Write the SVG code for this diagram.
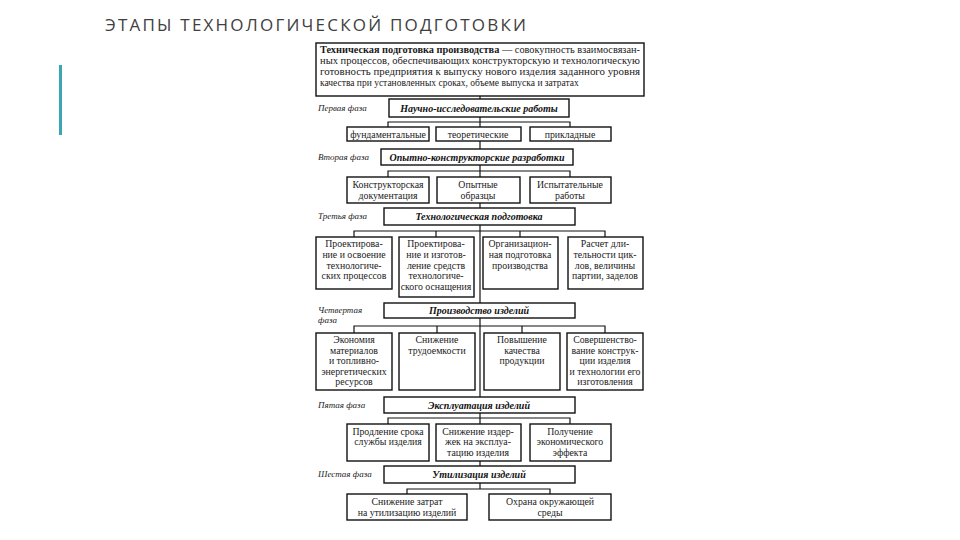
<svg xmlns="http://www.w3.org/2000/svg" width="960" height="540" viewBox="0 0 960 540">
<style>
.bg{fill:#ffffff}
.title{font-family:"Open Sans","DejaVu Sans",sans-serif;font-size:17px;fill:#404040;letter-spacing:1px}
.box{fill:#ffffff;stroke:#111;stroke-width:1.4}
.con{stroke:#111;stroke-width:1.2;fill:none}
.t{font-family:"Liberation Serif","Times New Roman",serif;font-size:9.8px;fill:#1a1a1a;text-anchor:middle}
.tl{font-family:"Liberation Serif","Times New Roman",serif;font-size:9.5px;fill:#1a1a1a}
.ph{font-family:"Liberation Serif","Times New Roman",serif;font-size:10px;font-weight:bold;font-style:italic;fill:#111;text-anchor:middle}
.lab{font-family:"Liberation Serif","Times New Roman",serif;font-size:9px;font-style:italic;fill:#222}
</style>
<rect class="bg" x="0" y="0" width="960" height="540"/>
<text class="title" x="105" y="31" textLength="422" lengthAdjust="spacing">ЭТАПЫ ТЕХНОЛОГИЧЕСКОЙ ПОДГОТОВКИ</text>
<rect x="59" y="65" width="3" height="70" fill="#3aa6b3"/>

<g id="connectors">
<line class="con" x1="480" y1="96" x2="480" y2="489"/>
<path class="con" d="M388 127V122H570V127"/>
<path class="con" d="M388 177V171H570V177"/>
<path class="con" d="M354 237V231H605V237M436 231V237M520 231V237"/>
<path class="con" d="M354 333V326H605V333M437 326V333M522 326V333"/>
<path class="con" d="M388 424V418H570V424"/>
<path class="con" d="M407 494V489H550V494"/>
</g>

<g id="top">
<rect class="box" x="316" y="43" width="328" height="53"/>
<text class="tl" x="320" y="53" textLength="320" lengthAdjust="spacingAndGlyphs"><tspan font-weight="bold">Техническая подготовка производства</tspan> — совокупность взаимосвязан-</text>
<text class="tl" x="320" y="64" textLength="320" lengthAdjust="spacingAndGlyphs">ных процессов, обеспечивающих конструкторскую и технологическую</text>
<text class="tl" x="320" y="75" textLength="320" lengthAdjust="spacingAndGlyphs">готовность предприятия к выпуску нового изделия заданного уровня</text>
<text class="tl" x="320" y="86">качества при установленных сроках, объеме выпуска и затратах</text>
</g>

<g id="phase1">
<text class="lab" x="318" y="111">Первая фаза</text>
<rect class="box" x="389" y="99" width="180" height="18"/>
<text class="ph" x="479" y="111.5">Научно-исследовательские работы</text>
</g>
<g id="p1c1"><rect class="box" x="347" y="127" width="82" height="14"/><text class="t" x="388" y="137.5">фундаментальные</text></g>
<g id="p1c2"><rect class="box" x="436" y="127" width="85" height="14"/><text class="t" x="478" y="137.5">теоретические</text></g>
<g id="p1c3"><rect class="box" x="530" y="127" width="81" height="14"/><text class="t" x="570" y="137.5">прикладные</text></g>

<g id="phase2">
<text class="lab" x="318" y="160">Вторая фаза</text>
<rect class="box" x="381" y="149" width="192" height="16"/>
<text class="ph" x="477" y="160.5">Опытно-конструкторские разработки</text>
</g>
<g id="p2c1"><rect class="box" x="347" y="177" width="82" height="26"/><text class="t" x="388" y="188">Конструкторская</text><text class="t" x="388" y="199">документация</text></g>
<g id="p2c2"><rect class="box" x="437" y="177" width="83" height="26"/><text class="t" x="478" y="188">Опытные</text><text class="t" x="478" y="199">образцы</text></g>
<g id="p2c3"><rect class="box" x="530" y="177" width="81" height="26"/><text class="t" x="570" y="188">Испытательные</text><text class="t" x="570" y="199">работы</text></g>

<g id="phase3">
<text class="lab" x="318" y="219">Третья фаза</text>
<rect class="box" x="384" y="208" width="191" height="17"/>
<text class="ph" x="479" y="220">Технологическая подготовка</text>
</g>
<g id="p3c1"><rect class="box" x="316" y="237" width="76" height="52"/>
<text class="t" x="354" y="247">Проектирова-</text><text class="t" x="354" y="257.8">ние и освоение</text><text class="t" x="354" y="268.6">технологиче-</text><text class="t" x="354" y="279.4">ских процессов</text></g>
<g id="p3c2"><rect class="box" x="399" y="237" width="75" height="60"/>
<text class="t" x="436" y="247">Проектирова-</text><text class="t" x="436" y="257.8">ние и изготов-</text><text class="t" x="436" y="268.6">ление средств</text><text class="t" x="436" y="279.4">технологиче-</text><text class="t" x="436" y="290.2">ского оснащения</text></g>
<g id="p3c3"><rect class="box" x="483" y="237" width="75" height="52"/>
<text class="t" x="520" y="247">Организацион-</text><text class="t" x="520" y="257.8">ная подготовка</text><text class="t" x="520" y="268.6">производства</text></g>
<g id="p3c4"><rect class="box" x="568" y="237" width="75" height="52"/>
<text class="t" x="605" y="247">Расчет дли-</text><text class="t" x="605" y="257.8">тельности цик-</text><text class="t" x="605" y="268.6">лов, величины</text><text class="t" x="605" y="279.4">партии, заделов</text></g>

<g id="phase4">
<text class="lab" x="318" y="313">Четвертая</text>
<text class="lab" x="318" y="323">фаза</text>
<rect class="box" x="384" y="303" width="191" height="15"/>
<text class="ph" x="479" y="314">Производство изделий</text>
</g>
<g id="p4c1"><rect class="box" x="316" y="333" width="76" height="57"/>
<text class="t" x="354" y="343">Экономия</text><text class="t" x="354" y="353.5">материалов</text><text class="t" x="354" y="364">и топливно-</text><text class="t" x="354" y="374.5">энергетических</text><text class="t" x="354" y="385">ресурсов</text></g>
<g id="p4c2"><rect class="box" x="399" y="333" width="76" height="57"/>
<text class="t" x="437" y="343">Снижение</text><text class="t" x="437" y="353.5">трудоемкости</text></g>
<g id="p4c3"><rect class="box" x="484" y="333" width="76" height="57"/>
<text class="t" x="522" y="343">Повышение</text><text class="t" x="522" y="353.5">качества</text><text class="t" x="522" y="364">продукции</text></g>
<g id="p4c4"><rect class="box" x="567" y="333" width="76" height="57"/>
<text class="t" x="605" y="343">Совершенство-</text><text class="t" x="605" y="353.5">вание конструк-</text><text class="t" x="605" y="364">ции изделия</text><text class="t" x="605" y="374.5">и технологии его</text><text class="t" x="605" y="385">изготовления</text></g>

<g id="phase5">
<text class="lab" x="318" y="408">Пятая фаза</text>
<rect class="box" x="384" y="397" width="191" height="16"/>
<text class="ph" x="479" y="408.5">Эксплуатация изделий</text>
</g>
<g id="p5c1"><rect class="box" x="347" y="424" width="82" height="37"/>
<text class="t" x="388" y="434.5">Продление срока</text><text class="t" x="388" y="445">службы изделия</text></g>
<g id="p5c2"><rect class="box" x="436" y="424" width="85" height="37"/>
<text class="t" x="478" y="434.5">Снижение издер-</text><text class="t" x="478" y="445">жек на эксплуа-</text><text class="t" x="478" y="455.5">тацию изделия</text></g>
<g id="p5c3"><rect class="box" x="530" y="424" width="81" height="37"/>
<text class="t" x="570" y="434.5">Получение</text><text class="t" x="570" y="445">экономического</text><text class="t" x="570" y="455.5">эффекта</text></g>

<g id="phase6">
<text class="lab" x="318" y="477">Шестая фаза</text>
<rect class="box" x="384" y="466" width="191" height="17"/>
<text class="ph" x="479" y="478">Утилизация изделий</text>
</g>
<g id="p6c1"><rect class="box" x="347" y="494" width="120" height="26"/>
<text class="t" x="407" y="505">Снижение затрат</text><text class="t" x="407" y="516">на утилизацию изделий</text></g>
<g id="p6c2"><rect class="box" x="489" y="494" width="122" height="26"/>
<text class="t" x="550" y="505">Охрана окружающей</text><text class="t" x="550" y="516">среды</text></g>
</svg>
